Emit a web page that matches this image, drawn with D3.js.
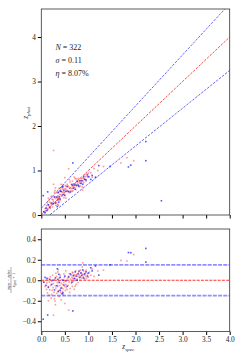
<!DOCTYPE html>
<html>
<head>
<meta charset="utf-8">
<script src="https://cdn.jsdelivr.net/npm/d3@7"></script>
<style>
  body { margin: 0; background: #fff; }
  svg { display: block; }
  text { font-family: "Liberation Serif", "DejaVu Serif", serif; fill: #222; }
</style>
</head>
<body>
<div id="chart"></div>
<script>
const width = 240;
const height = 360;

// photometric vs spectroscopic redshift, two samples
const redSpec = [0.06,0.08,0.10,0.11,0.12,0.13,0.14,0.15,0.16,0.17,0.18,0.19,0.20,0.21,0.22,0.23,0.24,0.25,0.26,0.26,0.27,0.28,0.29,0.30,0.26,
  0.31,0.32,0.33,0.34,0.35,0.35,0.36,0.37,0.38,0.38,0.39,0.40,0.40,0.41,0.42,0.43,0.44,0.45,0.45,0.46,0.47,0.48,0.49,0.50,0.51,0.52,0.53,0.54,0.55,
  0.30,0.58,0.50,
  0.56,0.57,0.58,0.59,0.60,0.61,0.62,0.63,0.64,0.65,0.66,0.67,0.67,0.68,0.69,0.70,0.70,0.71,0.72,0.73,0.74,0.75,0.76,0.77,0.78,0.79,0.80,
  0.81,0.82,0.83,0.84,0.85,0.86,0.87,0.88,0.89,0.90,0.91,0.92,0.93,0.94,0.95,0.96,0.98,1.00,1.02,1.05,1.08,1.12,1.20,1.32,1.69,1.82,1.96,
  0.88,0.28,0.42,0.52,0.22,0.36,0.60,0.48,0.15,0.66,0.72,0.31];
const redPhot = [0.08,0.145,0.10,0.21,0.15,0.27,0.12,0.22,0.33,0.19,0.29,0.15,0.26,0.42,0.23,0.35,0.18,0.34,0.30,0.69,0.42,0.27,0.55,0.37,1.45,
  0.41,0.27,0.50,0.37,0.43,0.24,0.50,0.38,0.60,0.35,0.46,0.53,0.33,0.58,0.46,0.53,0.43,0.61,0.51,0.58,0.68,0.51,0.45,0.59,0.66,0.58,0.64,0.54,0.69,
  0.61,1.04,0.84,
  0.53,0.65,0.52,0.62,0.50,0.74,0.60,0.55,0.69,0.60,0.76,0.64,0.55,0.70,0.62,0.70,0.85,0.62,0.69,0.57,0.81,0.65,0.74,0.70,0.82,0.66,0.75,
  0.72,0.82,0.65,0.77,0.72,0.82,0.63,0.77,0.83,0.73,0.81,0.90,0.80,0.86,0.76,0.92,0.86,0.94,0.86,0.95,0.85,1.04,1.00,1.09,1.17,1.29,1.22,
  0.56,0.51,0.69,0.38,0.39,0.22,0.79,0.39,0.38,0.53,0.82,0.22];

const blueSpec = [0.04,0.135,0.05,0.08,0.10,0.12,0.15,0.18,0.22,0.25,0.28,0.30,0.33,0.35,0.36,0.38,0.40,0.42,0.44,0.46,0.48,0.50,0.52,0.55,0.58,
  0.62,0.65,0.67,0.68,0.70,0.72,0.74,0.76,0.78,0.80,0.82,0.84,0.86,0.88,0.90,0.92,0.95,0.98,1.00,1.05,1.08,1.15,1.22,1.46,1.85,1.90,2.22,2.22,2.55,
  0.34,0.46,0.40,0.37];
const bluePhot = [0.435,0.52,0.07,0.05,0.155,0.10,0.23,0.17,0.27,0.25,0.40,0.27,0.40,0.34,0.51,0.41,0.36,0.53,0.63,0.46,0.55,0.44,0.53,0.64,0.53,
  0.52,0.68,1.17,0.60,0.67,0.58,0.67,0.76,0.67,0.64,0.77,0.71,0.77,0.69,0.86,0.80,0.79,0.90,0.86,0.80,0.89,0.85,1.11,1.09,1.08,1.12,1.22,1.65,0.32,
  0.19,0.64,0.54,0.29];

const xTicks = [0, 0.5, 1, 1.5, 2, 2.5, 3, 3.5, 4];
const topTicks = [0, 1, 2, 3, 4];
const botTicks = [-0.4, -0.2, 0, 0.2, 0.4];
const statLines = [["N", " = 322"], ["σ", " = 0.11"], ["η", " = 8.07%"]];
const outlierFrac = 0.15;

const red = redSpec.map((s, i) => ({s, p: redPhot[i]}));
const blue = blueSpec.map((s, i) => ({s, p: bluePhot[i]}));

const x = d3.scaleLinear([0, 4], [41.3, 229.7]);
const yTop = d3.scaleLinear([0, 4.63], [215, 9]);
const yBot = d3.scaleLinear([-0.5, 0.5], [331.5, 229]);
const resid = d => (d.s - d.p) / (1 + d.s);

const svg = d3.select('#chart').append('svg')
  .attr('width', width)
  .attr('height', height);

const defs = svg.append('defs');
defs.append('clipPath').attr('id', 'clipTop').append('rect')
  .attr('x', x(0)).attr('y', yTop(4.63)).attr('width', x(4) - x(0)).attr('height', yTop(0) - yTop(4.63));
defs.append('clipPath').attr('id', 'clipBot').append('rect')
  .attr('x', x(0)).attr('y', yBot(0.5)).attr('width', x(4) - x(0)).attr('height', yBot(-0.5) - yBot(0.5));

// ---- top panel
const topPanel = svg.append('g').attr('clip-path', 'url(#clipTop)');
const line = d3.line().x(d => x(d[0])).y(d => yTop(d[1]));
const xs = [0, 4];
topPanel.append('path').attr('d', line(xs.map(v => [v, v + outlierFrac * (1 + v)])))
  .attr('fill', 'none').attr('stroke', '#5555ff').attr('stroke-width', 0.9).attr('stroke-dasharray', '2.5,1.3');
topPanel.append('path').attr('d', line(xs.map(v => [v, v - outlierFrac * (1 + v)])))
  .attr('fill', 'none').attr('stroke', '#5555ff').attr('stroke-width', 0.9).attr('stroke-dasharray', '2.5,1.3');
topPanel.selectAll('rect.r').data(red).join('rect').attr('class', 'r')
  .attr('x', d => x(d.s) - 0.8).attr('y', d => yTop(d.p) - 0.8)
  .attr('width', 1.6).attr('height', 1.6).attr('fill', '#ff2020').attr('opacity', 0.45);
topPanel.append('path').attr('d', line(xs.map(v => [v, v])))
  .attr('fill', 'none').attr('stroke', '#ff3333').attr('stroke-width', 0.9).attr('stroke-dasharray', '2.5,1.3');
topPanel.selectAll('rect.b').data(blue).join('rect').attr('class', 'b')
  .attr('x', d => x(d.s) - 0.8).attr('y', d => yTop(d.p) - 0.8)
  .attr('width', 1.6).attr('height', 1.6).attr('fill', '#1010ff').attr('opacity', 0.7);

svg.append('g').attr('transform', `translate(${x(0)},0)`)
  .call(d3.axisLeft(yTop).tickValues(topTicks).tickSize(3.5).tickPadding(2).tickFormat(d3.format('d')))
  .call(g => g.select('.domain').remove())
  .call(g => g.selectAll('text').attr('font-size', 7.3));
svg.append('g').attr('transform', `translate(0,${yTop(0)})`)
  .call(d3.axisBottom(x).tickValues(xTicks).tickSize(3.5).tickFormat(''))
  .call(g => g.select('.domain').remove());
svg.append('rect').attr('x', x(0)).attr('y', yTop(4.63)).attr('width', x(4) - x(0)).attr('height', yTop(0) - yTop(4.63))
  .attr('fill', 'none').attr('stroke', '#333').attr('stroke-width', 0.8);

const stats = svg.append('g').attr('font-size', 8);
statLines.forEach((s, i) => {
  const t = stats.append('text').attr('x', 55.5).attr('y', 50 + i * 13.2);
  t.append('tspan').attr('font-style', 'italic').text(s[0]);
  t.append('tspan').text(s[1]);
});

const ylab = svg.append('text').attr('transform', 'translate(28,113) rotate(-90)')
  .attr('text-anchor', 'middle').attr('font-size', 7.3);
ylab.append('tspan').attr('font-style', 'italic').text('z');
ylab.append('tspan').attr('font-size', 5).attr('dy', 1.5).attr('font-style', 'italic').text('phot');

// ---- bottom panel
const botPanel = svg.append('g').attr('clip-path', 'url(#clipBot)');
const hline = v => d3.line()([[x(0), yBot(v)], [x(4), yBot(v)]]);
[outlierFrac, -outlierFrac].forEach(v => {
  botPanel.append('path').attr('d', hline(v)).attr('stroke', '#8f8fff').attr('stroke-width', 1.8)
    .attr('stroke-dasharray', '4,1.2').attr('fill', 'none');
});
botPanel.selectAll('rect.r').data(red).join('rect').attr('class', 'r')
  .attr('x', d => x(d.s) - 0.8).attr('y', d => yBot(resid(d)) - 0.8)
  .attr('width', 1.6).attr('height', 1.6).attr('fill', '#ff2020').attr('opacity', 0.45);
botPanel.append('path').attr('d', hline(0)).attr('stroke', '#ff3333').attr('stroke-width', 1)
  .attr('stroke-dasharray', '3,1.2').attr('fill', 'none');
botPanel.selectAll('rect.b').data(blue).join('rect').attr('class', 'b')
  .attr('x', d => x(d.s) - 0.8).attr('y', d => yBot(resid(d)) - 0.8)
  .attr('width', 1.6).attr('height', 1.6).attr('fill', '#1010ff').attr('opacity', 0.7);

svg.append('g').attr('transform', `translate(${x(0)},0)`)
  .call(d3.axisLeft(yBot).tickValues(botTicks).tickSize(3.5).tickPadding(2)
    .tickFormat(d => d3.format('.1f')(d).replace('-', '−')))
  .call(g => g.select('.domain').remove())
  .call(g => g.selectAll('text').attr('font-size', 7.3));
svg.append('g').attr('transform', `translate(0,${yBot(-0.5)})`)
  .call(d3.axisBottom(x).tickValues(xTicks).tickSize(3.5).tickPadding(2).tickFormat(d3.format('.1f')))
  .call(g => g.select('.domain').remove())
  .call(g => g.selectAll('text').attr('font-size', 7.3));
svg.append('rect').attr('x', x(0)).attr('y', yBot(0.5)).attr('width', x(4) - x(0)).attr('height', yBot(-0.5) - yBot(0.5))
  .attr('fill', 'none').attr('stroke', '#333').attr('stroke-width', 0.8);

const xlab = svg.append('text').attr('x', 128).attr('y', 349)
  .attr('text-anchor', 'middle').attr('font-size', 7.3);
xlab.append('tspan').attr('font-style', 'italic').text('z');
xlab.append('tspan').attr('font-size', 5).attr('dy', 1.5).attr('font-style', 'italic').text('spec');

// fraction label for residuals
const frac = svg.append('g').attr('transform', 'translate(11,280) rotate(-90)').attr('font-size', 4.4);
const num = frac.append('text').attr('text-anchor', 'middle').attr('y', -1.5);
num.append('tspan').attr('font-style', 'italic').text('z');
num.append('tspan').attr('font-size', 3.2).attr('dy', 0.8).attr('font-style', 'italic').text('spec');
num.append('tspan').attr('dy', -0.8).text(' − ');
num.append('tspan').attr('font-style', 'italic').text('z');
num.append('tspan').attr('font-size', 3.2).attr('dy', 0.8).attr('font-style', 'italic').text('phot');
frac.append('line').attr('x1', -13).attr('x2', 13).attr('y1', 0).attr('y2', 0)
  .attr('stroke', '#333').attr('stroke-width', 0.4);
const den = frac.append('text').attr('text-anchor', 'middle').attr('y', 4.3);
den.append('tspan').attr('font-style', 'italic').text('z');
den.append('tspan').attr('font-size', 3.2).attr('dy', 0.8).attr('font-style', 'italic').text('spec');
den.append('tspan').attr('dy', -0.8).text(' + 1');
</script>
</body>
</html>
